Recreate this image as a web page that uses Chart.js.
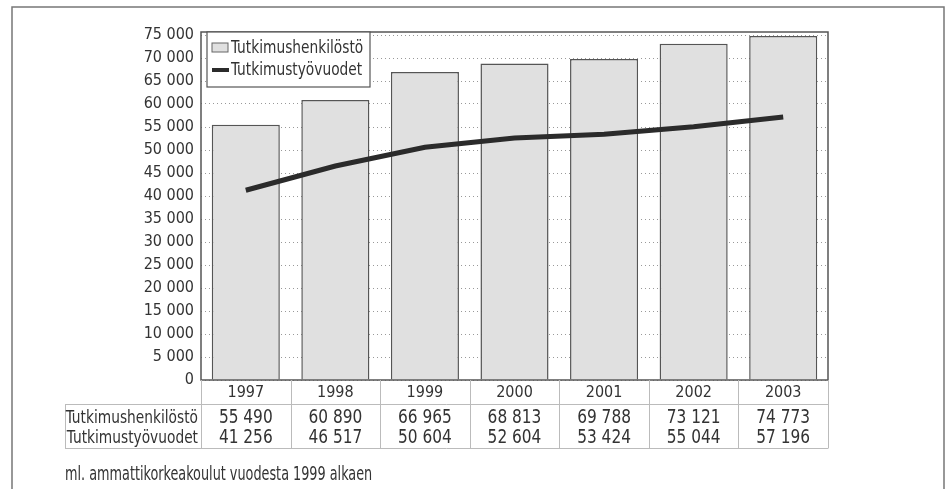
<!DOCTYPE html>
<html>
<head>
<meta charset="utf-8">
<script src="https://cdn.jsdelivr.net/npm/chart.js@4.4.1/dist/chart.umd.min.js"></script>
<style>
  html, body { margin: 0; padding: 0; background: #fff; }
  canvas { display: block; }
</style>
</head>
<body>
<canvas id="chart" width="950" height="489"></canvas>
<script>
// Data
const years = ['1997', '1998', '1999', '2000', '2001', '2002', '2003'];
const staff = [55490, 60890, 66965, 68813, 69788, 73121, 74773];
const personYears = [41256, 46517, 50604, 52604, 53424, 55044, 57196];
const seriesNames = ['Tutkimushenkilöstö', 'Tutkimustyövuodet'];
const footnote = 'ml. ammattikorkeakoulut vuodesta 1999 alkaen';

const FONT = '"DejaVu Sans Condensed", "Liberation Sans Narrow", sans-serif';
const INK = '#333';

// Thousands with a space, Finnish style
function fmt(v) {
  return String(v).replace(/\B(?=(\d{3})+(?!\d))/g, ' ');
}

// Squeezed text, the original uses a narrow face
function narrowText(ctx, text, x, y, size, sx, align) {
  ctx.save();
  ctx.font = size + 'px ' + FONT;
  ctx.textAlign = align;
  ctx.textBaseline = 'middle';
  ctx.translate(x, y);
  ctx.scale(sx, 1);
  ctx.fillText(text, 0, 0);
  ctx.restore();
}

// Outer frame + plot frame
const framePlugin = {
  id: 'frame',
  beforeDraw(chart) {
    const ctx = chart.ctx;
    ctx.save();
    ctx.strokeStyle = '#777';
    ctx.lineWidth = 1.5;
    ctx.beginPath();
    ctx.moveTo(12, 489);
    ctx.lineTo(12, 7);
    ctx.lineTo(944, 7);
    ctx.lineTo(944, 489);
    ctx.stroke();
    ctx.restore();
  },
  afterDatasetsDraw(chart) {
    const a = chart.chartArea;
    const ctx = chart.ctx;
    ctx.save();
    ctx.strokeStyle = '#555';
    ctx.lineWidth = 1.5;
    ctx.strokeRect(a.left, a.top - 3, a.right - a.left, a.bottom - a.top + 3);
    ctx.restore();
  }
};

// Legend box inside the plot
const legendPlugin = {
  id: 'boxLegend',
  afterDraw(chart) {
    const ctx = chart.ctx;
    const bars = chart.data.datasets.find(d => d.type === 'bar');
    const line = chart.data.datasets.find(d => d.type === 'line');
    const x = 207, y = 32;
    ctx.save();
    ctx.fillStyle = '#fff';
    ctx.fillRect(x, y, 163, 55);
    ctx.strokeStyle = '#555';
    ctx.lineWidth = 1.2;
    ctx.strokeRect(x, y, 163, 55);

    // bar swatch
    ctx.fillStyle = bars.backgroundColor;
    ctx.fillRect(x + 5, y + 11, 16, 9);
    ctx.strokeStyle = '#666';
    ctx.lineWidth = 1;
    ctx.strokeRect(x + 5, y + 11, 16, 9);
    // line swatch
    ctx.strokeStyle = line.borderColor;
    ctx.lineWidth = 4;
    ctx.beginPath();
    ctx.moveTo(x + 5, y + 38);
    ctx.lineTo(x + 22, y + 38);
    ctx.stroke();

    ctx.fillStyle = INK;
    narrowText(ctx, bars.label, x + 24, y + 16, 18, 0.85, 'left');
    narrowText(ctx, line.label, x + 24, y + 38, 18, 0.85, 'left');
    ctx.restore();
  }
};

// Data table below the axis
const tablePlugin = {
  id: 'dataTable',
  afterDraw(chart) {
    const ctx = chart.ctx;
    const xs = chart.scales.x;
    const a = chart.chartArea;
    const colW = (a.right - a.left) / years.length;
    const tableLeft = 65, lineY = 404.5, bottomY = 448.5;
    ctx.save();
    ctx.strokeStyle = '#bbb';
    ctx.lineWidth = 1;
    ctx.beginPath();
    ctx.moveTo(tableLeft, lineY); ctx.lineTo(a.right, lineY);
    ctx.moveTo(tableLeft, bottomY); ctx.lineTo(a.right, bottomY);
    ctx.moveTo(tableLeft + 0.5, lineY); ctx.lineTo(tableLeft + 0.5, bottomY);
    for (let i = 0; i <= years.length; i++) {
      const px = Math.round(a.left + i * colW) + 0.5;
      ctx.moveTo(px, a.bottom); ctx.lineTo(px, bottomY);
    }
    ctx.stroke();

    ctx.fillStyle = INK;
    narrowText(ctx, seriesNames[0], 198, 418, 18, 0.85, 'right');
    narrowText(ctx, seriesNames[1], 198, 438, 18, 0.85, 'right');

    years.forEach((yr, i) => {
      const cx = xs.getPixelForValue(i);
      narrowText(ctx, fmt(staff[i]), cx, 418, 19, 0.9, 'center');
      narrowText(ctx, fmt(personYears[i]), cx, 438, 19, 0.9, 'center');
    });

    narrowText(ctx, footnote, 65, 475, 19, 0.75, 'left');
    ctx.restore();
  }
};

new Chart(document.getElementById('chart'), {
  data: {
    labels: years,
    datasets: [
      {
        type: 'line',
        label: seriesNames[1],
        data: personYears,
        borderColor: '#2b2b2b',
        borderWidth: 5,
        pointRadius: 0,
        tension: 0,
        order: 0
      },
      {
        type: 'bar',
        label: seriesNames[0],
        data: staff,
        backgroundColor: '#e0e0e0',
        borderColor: '#555',
        borderWidth: 1.5,
        borderSkipped: 'bottom',
        categoryPercentage: 1,
        barPercentage: 0.76,
        order: 1
      }
    ]
  },
  options: {
    responsive: false,
    animation: false,
    layout: { padding: { top: 35, right: 122, left: 0, bottom: 0 } },
    plugins: {
      legend: { display: false },
      tooltip: { enabled: false }
    },
    scales: {
      x: {
        grid: { display: false, drawTicks: false },
        border: { display: false },
        ticks: { color: INK, font: { family: FONT, size: 16, lineHeight: 1.2 }, padding: 3 },
        afterFit(scale) { scale.height = 109; }
      },
      y: {
        min: 0,
        max: 75000,
        grid: {
          color: '#999',
          lineWidth: 1,
          drawTicks: false
        },
        border: { display: false, dash: [1, 3] },
        ticks: {
          stepSize: 5000,
          autoSkip: false,
          color: INK,
          padding: 7,
          font: { family: FONT, size: 16, lineHeight: 1 },
          callback: v => fmt(v)
        },
        afterFit(scale) { scale.width = 201; }
      }
    }
  },
  plugins: [framePlugin, legendPlugin, tablePlugin]
});
</script>
</body>
</html>
